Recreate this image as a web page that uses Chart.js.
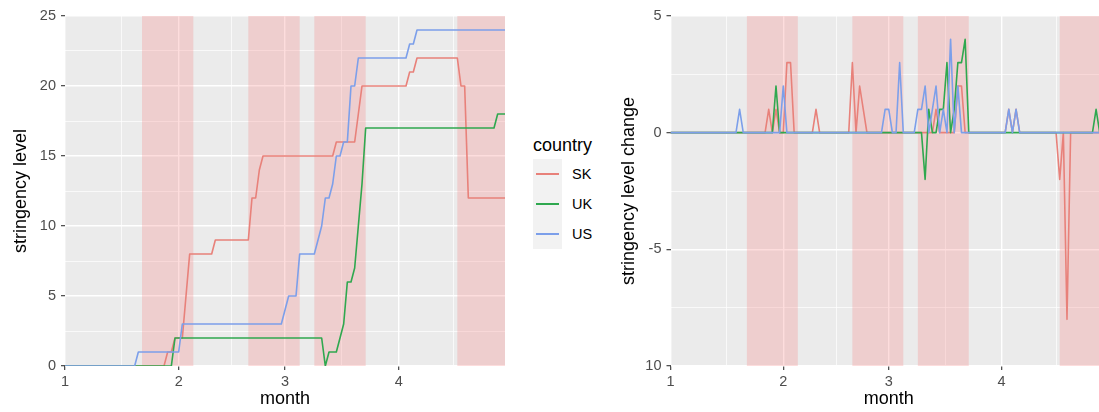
<!DOCTYPE html>
<html>
<head>
<meta charset="utf-8">
<script src="https://cdn.jsdelivr.net/npm/chart.js@4.4.1/dist/chart.umd.min.js"></script>
<style>
  body { margin: 0; background: #fff; overflow: hidden; font-family: "Liberation Sans", Arial, sans-serif; }
  #wrap { position: relative; width: 1099px; height: 412px; overflow: hidden; }
  #level_chart { position: absolute; left: 0; top: 0; }
  #change_chart { position: absolute; left: 600px; top: 0; }
  #legend { position: absolute; left: 533px; top: 134px; }
  #legend .title { font-size: 18px; line-height: 22px; height: 25px; color: #000; }
  #legend .row { height: 30px; position: relative; }
  #legend .key { position: absolute; left: 0; top: 0; width: 29px; height: 30px; background: #F2F2F2; }
  #legend .key span { position: absolute; left: 3px; top: 14px; width: 23px; height: 1.6px; }
  #legend .lab { position: absolute; left: 39px; top: 0; line-height: 30px; font-size: 14.5px; color: #000; }
</style>
</head>
<body>
<div id="wrap">
  <canvas id="level_chart" width="505" height="412"></canvas>
  <div id="legend"></div>
  <canvas id="change_chart" width="507" height="412"></canvas>
</div>
<script>
"use strict"

// axis breaks (day 0 = 1 Jan), labels are month numbers
var dayTicks = [0, 31, 60, 91];
var monthLabels = ['1', '2', '3', '4'];
var dayMinor = [15.5, 45.5, 75.5, 106];

var levelTicks = [0, 5, 10, 15, 20, 25];
var levelMinor = [2.5, 7.5, 12.5, 17.5, 22.5];

var changeTicks = [-10, -5, 0, 5];
var changeTickLabels = ['10', '-5', '0', '5'];
var changeMinor = [-7.5, -2.5, 2.5];

// shaded periods, in days
var bandStart = [21, 50, 68, 107];
var bandEnd = [35, 64, 82, 120];

var countries = ['SK', 'UK', 'US'];

// stringency level, [day, value] vertices
var skLevel = [[0,0],[27,0],[28,1],[29,1],[30,2],[32,2],[33,5],[34,8],[40,8],[41,9],[50,9],[51,12],[52,12],[53,14],[54,15],
    [73,15],[74,16],[79,16],[80,18],[81,20],[93,20],[94,21],[95,21],[96,22],[107,22],[108,20],[109,20],[110,12],[120,12]];
var ukLevel = [[0,0],[29,0],[30,2],[70,2],[71,0],[72,1],[74,1],[75,2],[76,3],[77,6],[78,6],[79,7],[80,10],[81,13],[82,17],
    [117,17],[118,18],[120,18]];
var usLevel = [[0,0],[19,0],[20,1],[31,1],[32,3],[59,3],[61,5],[63,5],[64,8],[68,8],[70,10],[71,12],[72,12],[73,13],[74,15],
    [75,15],[76,16],[77,16],[78,20],[79,20],[80,22],[93,22],[94,23],[95,23],[96,24],[120,24]];

// stringency level change, [day, value] vertices
var skChange = [[0,0],[26,0],[27,1],[28,0],[29,1],[30,0],[31,0],[32,3],[33,3],[34,0],[39,0],[40,1],[41,0],[49,0],[50,3],[51,0],
    [52,2],[53,1],[54,0],[72,0],[73,1],[74,0],[78,0],[79,2],[80,2],[81,0],[92,0],[93,1],[94,0],[95,1],[96,0],[106,0],[107,-2],
    [108,0],[109,-8],[110,0],[120,0]];
var ukChange = [[0,0],[28,0],[29,2],[30,0],[69,0],[70,-2],[71,1],[72,0],[73,0],[74,1],[75,1],[76,3],[77,0],[78,1],[79,3],[80,3],
    [81,4],[82,0],[116,0],[117,1],[118,0],[120,0]];
var usChange = [[0,0],[18,0],[19,1],[20,0],[30,0],[31,2],[32,0],[58,0],[59,1],[60,1],[61,0],[62,0],[63,3],[64,0],[67,0],[68,1],
    [69,1],[70,2],[71,0],[72,1],[73,2],[74,0],[75,1],[76,0],[77,4],[78,0],[79,2],[80,0],[92,0],[93,1],[94,0],[95,1],[96,0],[120,0]];

// styles
var lineColors = ['#E8817A', '#2FA84F', '#7C9FEA'];
var PANEL_BG = '#EBEBEB';
var BAND_COLOR = 'rgba(248,118,118,0.25)';

Chart.defaults.font.family = '"Liberation Sans", Arial, sans-serif';
Chart.defaults.animation = false;
Chart.defaults.plugins.legend.display = false;
Chart.defaults.plugins.tooltip.enabled = false;

function toPoints(pairs) {
    return pairs.map(function(p) { return {x: p[0], y: p[1]}; });
}

function tickList(major, minor) {
    var t = major.map(function(v) { return {value: v, major: true}; })
        .concat(minor.map(function(v) { return {value: v, major: false}; }));
    return t.sort(function(a, b) { return a.value - b.value; });
}

var gridStyle = {
    color: '#FFFFFF',
    lineWidth: function(c) { return c.tick && c.tick.major ? 1.4 : 0.7; },
    tickColor: function(c) { return c.tick && c.tick.major ? '#333333' : 'rgba(0,0,0,0)'; },
    tickLength: 4,
    tickWidth: 1.1
};

var panelPlugin = {
    id: 'panel',
    beforeDraw: function(chart) {
        var a = chart.chartArea, ctx = chart.ctx;
        ctx.save();
        ctx.fillStyle = PANEL_BG;
        ctx.fillRect(a.left, a.top, a.right - a.left, a.bottom - a.top);
        ctx.restore();
    },
    beforeDatasetsDraw: function(chart) {
        var a = chart.chartArea, ctx = chart.ctx, x = chart.scales.x;
        ctx.save();
        ctx.fillStyle = BAND_COLOR;
        for (var i = 0; i < bandStart.length; i++) {
            var x0 = x.getPixelForValue(bandStart[i]);
            var x1 = x.getPixelForValue(bandEnd[i]);
            ctx.fillRect(x0, a.top, x1 - x0, a.bottom - a.top);
        }
        ctx.restore();
    }
};

function makeDatasets(series) {
    return series.map(function(s, i) {
        return {
            label: countries[i],
            data: toPoints(s),
            borderColor: lineColors[i],
            borderWidth: 1.6,
            pointRadius: 0,
            tension: 0,
            borderJoinStyle: 'round',
            order: series.length - i
        };
    });
}

function xAxis() {
    return {
        type: 'linear', min: 0, max: 120,
        afterBuildTicks: function(s) { s.ticks = tickList(dayTicks, dayMinor); },
        afterFit: function(s) { s.height = 46; },
        grid: gridStyle,
        border: {display: false},
        ticks: {
            autoSkip: false, maxRotation: 0, padding: 3, color: '#4D4D4D', font: {size: 14.5},
            callback: function(v) { var i = dayTicks.indexOf(v); return i < 0 ? '' : monthLabels[i]; }
        },
        title: {display: true, text: 'month', color: '#000', font: {size: 18}, padding: {top: 0, bottom: 2}}
    };
}

function yAxis(min, max, major, minor, labels, width, title, titlePad) {
    return {
        type: 'linear', min: min, max: max,
        afterBuildTicks: function(s) { s.ticks = tickList(major, minor); },
        afterFit: function(s) { s.width = width; },
        grid: gridStyle,
        border: {display: false},
        ticks: {
            autoSkip: false, padding: 5, color: '#4D4D4D', font: {size: 14.5},
            callback: function(v) { var i = major.indexOf(v); return i < 0 ? '' : labels[i]; }
        },
        title: {display: true, text: title, color: '#000', font: {size: 18}, padding: {top: titlePad, bottom: 0}}
    };
}

var levelChart = new Chart(document.getElementById('level_chart'), {
    type: 'line',
    data: {datasets: makeDatasets([skLevel, ukLevel, usLevel])},
    options: {
        responsive: false,
        devicePixelRatio: 1,
        layout: {padding: {top: 16, right: 0, bottom: 0, left: 0}},
        scales: {
            x: xAxis(),
            y: yAxis(0, 25, levelTicks, levelMinor, levelTicks.map(String), 65, 'stringency level', 10.5)
        }
    },
    plugins: [panelPlugin]
});

var changeChart = new Chart(document.getElementById('change_chart'), {
    type: 'line',
    data: {datasets: makeDatasets([skChange, ukChange, usChange])},
    options: {
        responsive: false,
        devicePixelRatio: 1,
        layout: {padding: {top: 16, right: 0, bottom: 0, left: 0}},
        scales: {
            x: xAxis(),
            y: yAxis(-10, 5, changeTicks, changeMinor, changeTickLabels, 70.5, 'stringency level change', 18)
        }
    },
    plugins: [panelPlugin]
});

// legend between the two panels
var legend = document.getElementById('legend');
var html = '<div class="title">country</div>';
countries.forEach(function(c, i) {
    html += '<div class="row"><div class="key"><span style="background:' + lineColors[i] + '"></span></div>' +
        '<div class="lab">' + c + '</div></div>';
});
legend.innerHTML = html;
</script>
</body>
</html>
